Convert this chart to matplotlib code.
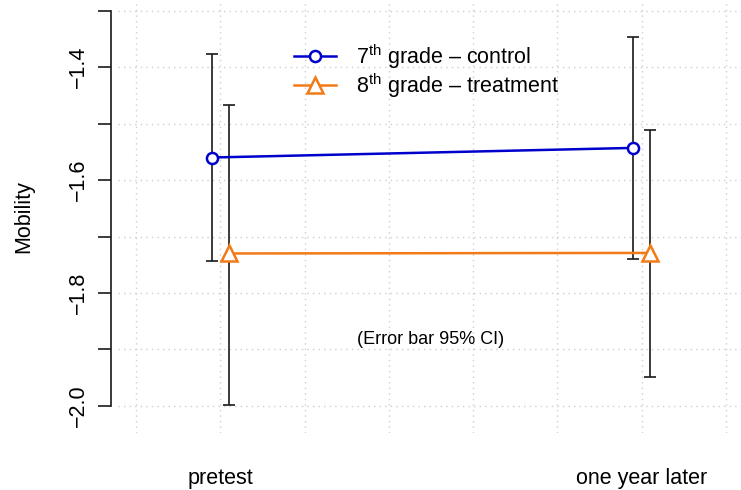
import matplotlib.pyplot as plt

plt.rcParams['font.family'] = ['Liberation Sans', 'DejaVu Sans']
plt.rcParams['mathtext.fontset'] = 'custom'
plt.rcParams['mathtext.rm'] = 'Liberation Sans'

# data
times = ["pretest", "one year later"]
control_mean = [-1.560, -1.543]
control_lo = [-1.743, -1.739]
control_hi = [-1.377, -1.346]
treat_mean = [-1.730, -1.729]
treat_lo = [-1.998, -1.948]
treat_hi = [-1.467, -1.512]

pos = [1, 2]
dodge = 0.02

fig = plt.figure(figsize=(7.41, 4.90), dpi=100)
ax = fig.add_axes([118 / 741, 1 - 433 / 490, (741 - 118) / 741, 433 / 490])

# grid
for y in [-2.0, -1.9, -1.8, -1.7, -1.6, -1.5, -1.4, -1.3]:
    ax.axhline(y, color="#cfcfcf", lw=1, ls=(0, (1, 3)), zorder=0)
for x in [0.8, 1.0, 1.2, 1.4, 1.6, 1.8, 2.0, 2.2]:
    ax.axvline(x, color="#cfcfcf", lw=1, ls=(0, (1, 3)), zorder=0)

xc = [p - dodge for p in pos]
xt = [p + dodge for p in pos]

ax.errorbar(xc, control_mean,
            yerr=[[m - l for m, l in zip(control_mean, control_lo)],
                  [h - m for m, h in zip(control_mean, control_hi)]],
            fmt="none", ecolor="#1a1a1a", elinewidth=1.2, capsize=4, capthick=1.2, zorder=2)
ax.errorbar(xt, treat_mean,
            yerr=[[m - l for m, l in zip(treat_mean, treat_lo)],
                  [h - m for m, h in zip(treat_mean, treat_hi)]],
            fmt="none", ecolor="#1a1a1a", elinewidth=1.2, capsize=4, capthick=1.2, zorder=2)

ax.plot(xc, control_mean, color="#0000cd", lw=1.8, marker="o", ms=8,
        mfc="white", mew=1.8, zorder=3, label=r"7$^{\mathrm{th}}$ grade – control")
ax.plot(xt, treat_mean, color="#f27a17", lw=1.8, marker="^", ms=11,
        mfc="white", mew=1.8, zorder=3, label=r"8$^{\mathrm{th}}$ grade – treatment")

ax.set_xlim(0.757, 2.236)
ax.set_ylim(-2.048, -1.281)

for s in ["top", "right", "bottom"]:
    ax.spines[s].set_visible(False)
ax.spines["left"].set_position(("outward", 5))
ax.spines["left"].set_bounds(-2.0, -1.3)
ax.spines["left"].set_linewidth(1.2)
ax.spines["left"].set_color("#1a1a1a")

ax.set_yticks([-2.0, -1.9, -1.8, -1.7, -1.6, -1.5, -1.4, -1.3])
ax.set_yticklabels(["−2.0", "", "−1.8", "", "−1.6", "", "−1.4", ""],
                   rotation=90, va="center", fontsize=15.5)
ax.tick_params(axis="y", length=9.4, width=1.2, color="#1a1a1a", pad=6.5)

ax.set_xticks(pos)
ax.set_xticklabels(times, fontsize=15.5)
ax.tick_params(axis="x", length=0, pad=25)

ax.set_ylabel("Mobility", fontsize=15.5, labelpad=24)

ax.text(1.5, -1.883, "(Error bar 95% CI)", ha="center", va="center", fontsize=13)

ax.legend(loc="upper left", bbox_to_anchor=(0.252, 0.947), frameon=False,
          fontsize=15.5, handlelength=1.95, handletextpad=0.93, labelspacing=0.0)

fig.savefig("out.png", dpi=100)
